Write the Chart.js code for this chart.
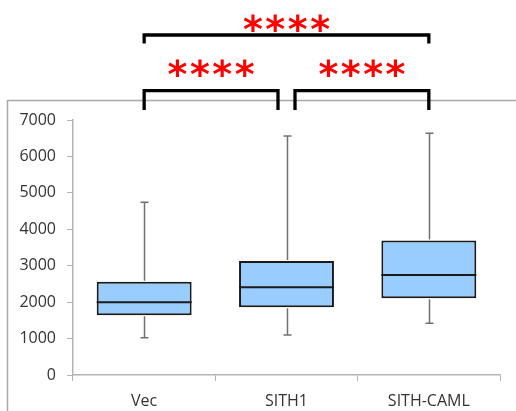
<!DOCTYPE html>
<html>
<head>
<meta charset="utf-8">
<script src="https://cdn.jsdelivr.net/npm/chart.js@4/dist/chart.umd.min.js"></script>
<style>
  html, body { margin: 0; padding: 0; background: #ffffff; }
  #wrap { width: 516px; height: 411px; }
</style>
</head>
<body>
<div id="wrap"><canvas id="c" width="516" height="411"></canvas></div>
<script>
// Box plot summary per group
const categories  = ['Vec', 'SITH1', 'SITH-CAML'];
const whiskerMin  = [1020, 1100, 1420];
const quartile1   = [1640, 1860, 2105];
const medianVal   = [2000, 2410, 2745];
const quartile3   = [2560, 3130, 3690];
const whiskerMax  = [4740, 6560, 6635];

// Y axis range
const yMin = 0;
const yMax = 7000;
const yStep = 1000;

// Pairwise significance comparisons (group indices) and their labels
const compareFrom  = [0, 1, 0];
const compareTo    = [1, 2, 2];
const compareLabel = ['****', '****', '****'];
const compareLevel = [0, 0, 1];   // 0 = lower row, 1 = upper row

const boxRanges = quartile1.map((q, i) => [q, quartile3[i]]);

const FONT = '"Open Sans", "Liberation Sans", sans-serif';

// Outer border of the chart area frame
const framePlugin = {
  id: 'frame',
  beforeDraw(chart) {
    const ctx = chart.ctx;
    ctx.save();
    ctx.strokeStyle = '#a8a8a8';
    ctx.lineWidth = 1.5;
    ctx.strokeRect(7.5, 100.5, 620, 400);
    ctx.restore();
  }
};

// Whiskers, caps and median lines on top of the boxes
const boxPlotPlugin = {
  id: 'boxplot',
  afterDatasetsDraw(chart) {
    const ctx = chart.ctx;
    const y = chart.scales.y;
    const meta = chart.getDatasetMeta(0);
    ctx.save();
    meta.data.forEach((bar, i) => {
      const cx = Math.round(bar.x) + 0.5;
      const half = bar.width / 2;
      const yMaxPx = y.getPixelForValue(whiskerMax[i]);
      const yMinPx = y.getPixelForValue(whiskerMin[i]);
      const yQ3 = y.getPixelForValue(quartile3[i]);
      const yQ1 = y.getPixelForValue(quartile1[i]);
      const yMed = y.getPixelForValue(medianVal[i]);

      ctx.strokeStyle = '#707070';
      ctx.lineWidth = 1.5;
      ctx.beginPath();
      ctx.moveTo(cx, yQ3 - 1);
      ctx.lineTo(cx, yMaxPx);
      ctx.moveTo(cx - 4, yMaxPx);
      ctx.lineTo(cx + 4, yMaxPx);
      ctx.moveTo(cx, yQ1 + 1);
      ctx.lineTo(cx, yMinPx);
      ctx.moveTo(cx - 4, yMinPx);
      ctx.lineTo(cx + 4, yMinPx);
      ctx.stroke();

      ctx.strokeStyle = '#1a1a1a';
      ctx.lineWidth = 2;
      ctx.beginPath();
      ctx.moveTo(bar.x - half, yMed);
      ctx.lineTo(bar.x + half, yMed);
      ctx.stroke();
    });
    ctx.restore();
  }
};

// Significance brackets with star labels above the plot
const significancePlugin = {
  id: 'significance',
  afterDraw(chart) {
    const ctx = chart.ctx;
    const x = chart.scales.x;
    const rows = [
      { bar: 90.7, leg: 110, text: 67.5 },
      { bar: 35, leg: 43.5, text: 22.7 }
    ];
    ctx.save();
    compareFrom.forEach((from, k) => {
      const to = compareTo[k];
      const row = rows[compareLevel[k]];
      let x1 = x.getPixelForValue(from);
      let x2 = x.getPixelForValue(to);
      // neighbouring brackets share a group: pull the ends apart slightly
      if (compareLevel[k] === 0) {
        if (compareFrom.some((f, j) => j !== k && compareLevel[j] === 0 && compareTo[j] === from)) x1 += 8.5;
        if (compareFrom.some((f, j) => j !== k && compareLevel[j] === 0 && f === to)) x2 -= 8.5;
      }
      ctx.strokeStyle = '#000000';
      ctx.lineWidth = 3.3;
      ctx.lineJoin = 'miter';
      ctx.lineCap = 'butt';
      ctx.beginPath();
      ctx.moveTo(x1, row.leg);
      ctx.lineTo(x1, row.bar);
      ctx.lineTo(x2, row.bar);
      ctx.lineTo(x2, row.leg);
      ctx.stroke();

      // stars, evenly spaced and centred over the bracket
      const label = compareLabel[k];
      ctx.fillStyle = '#ff0000';
      ctx.font = 'bold 38px "DejaVu Sans"';
      ctx.textAlign = 'center';
      ctx.textBaseline = 'alphabetic';
      const m = ctx.measureText('*');
      const mid = (m.actualBoundingBoxAscent - m.actualBoundingBoxDescent) / 2;
      const cx = (x1 + x2) / 2;
      const gap = 22.4;
      for (let s = 0; s < label.length; s++) {
        const sx = cx + (s - (label.length - 1) / 2) * gap;
        ctx.fillText(label[s], sx, row.text + mid);
      }
    });
    ctx.restore();
  }
};

new Chart(document.getElementById('c'), {
  type: 'bar',
  data: {
    labels: categories,
    datasets: [{
      data: boxRanges,
      backgroundColor: '#99ccff',
      borderColor: '#1a1a1a',
      borderWidth: 2,
      borderSkipped: false,
      barPercentage: 0.667,
      categoryPercentage: 1.0
    }]
  },
  options: {
    responsive: false,
    animation: false,
    devicePixelRatio: 1,
    layout: { padding: { top: 120, right: 16, bottom: 0, left: 0 } },
    plugins: {
      legend: { display: false },
      tooltip: { enabled: false }
    },
    scales: {
      x: {
        offset: true,
        grid: { offset: true, drawOnChartArea: false, tickLength: 6, color: '#b3b3b3', lineWidth: 1 },
        border: { color: '#b3b3b3', width: 1.5 },
        ticks: { color: '#333333', font: { family: FONT, size: 16 }, padding: 11, maxRotation: 0 },
        afterFit(scale) { scale.height = 36; }
      },
      y: {
        min: yMin,
        max: yMax,
        grid: { drawOnChartArea: false, tickLength: 6, color: '#b3b3b3', lineWidth: 1 },
        border: { color: '#b3b3b3', width: 1.5 },
        ticks: {
          stepSize: yStep,
          color: '#333333',
          font: { family: FONT, size: 16 },
          padding: 11,
          callback: (v) => String(v)
        },
        afterFit(scale) { scale.width = 73; }
      }
    }
  },
  plugins: [framePlugin, boxPlotPlugin, significancePlugin]
});
</script>
</body>
</html>
